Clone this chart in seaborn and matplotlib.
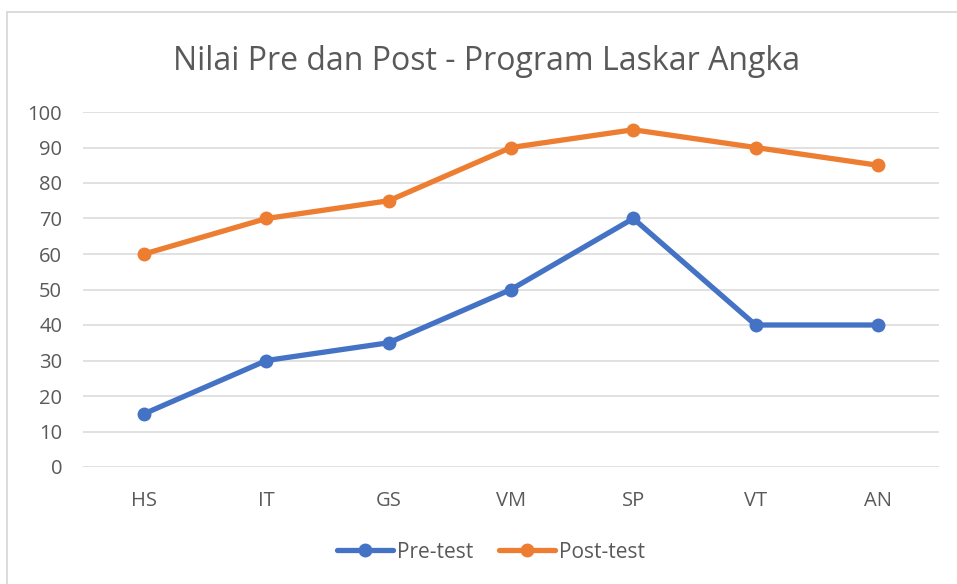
import matplotlib
matplotlib.use('Agg')
import matplotlib.pyplot as plt
import seaborn as sns
import pandas as pd
from matplotlib.patches import Rectangle

names = ['HS', 'IT', 'GS', 'VM', 'SP', 'VT', 'AN']
pre_test = [15, 30, 35, 50, 70, 40, 40]
post_test = [60, 70, 75, 90, 95, 90, 85]
series = ['Pre-test', 'Post-test']
colors = ['#4472C4', '#ED7D31']

df = pd.DataFrame({
    'nama': names * 2,
    'nilai': pre_test + post_test,
    'seri': [series[0]] * len(names) + [series[1]] * len(names),
})
df['pos'] = list(range(len(names))) * 2

sns.set_theme(style='white')
plt.rcParams['font.family'] = ['Open Sans', 'DejaVu Sans']
txt = '#595959'

fig = plt.figure(figsize=(9.57, 5.84), dpi=100)
fig.patches.append(Rectangle((7 / 957, -0.1), 1.2, 1 - 12 / 584 + 0.1, transform=fig.transFigure,
                             fill=False, edgecolor='#D9D9D9', linewidth=1.3))
ax = fig.add_axes([83 / 957, 117 / 584, 856 / 957, 355 / 584])

sns.lineplot(data=df, x='pos', y='nilai', hue='seri', hue_order=series, palette=colors,
             marker='o', markersize=10, markeredgewidth=0, linewidth=3.8, ax=ax,
             solid_capstyle='round')

ax.set_xlim(-0.5, len(names) - 0.5)
ax.set_ylim(0, 100)
ax.set_yticks(range(0, 101, 10))
ax.set_xticks(range(len(names)))
ax.set_xticklabels(names)
ax.grid(axis='y', color='#D9D9D9', linewidth=1.1)
ax.set_axisbelow(True)
for s in ax.spines.values():
    s.set_visible(False)
ax.tick_params(axis='both', colors=txt, labelsize=14.5, length=0)
ax.tick_params(axis='y', pad=15)
ax.tick_params(axis='x', pad=17)
ax.set_xlabel('')
ax.set_ylabel('')

fig.text(487 / 957, 1 - 62 / 584, 'Nilai Pre dan Post - Program Laskar Angka', ha='center', va='center',
         fontsize=23, color=txt)

handles, labels = ax.get_legend_handles_labels()
ax.legend(handles, labels, loc='center', bbox_to_anchor=(491 / 957, 1 - 552 / 584),
          bbox_transform=fig.transFigure, ncol=2, frameon=False, fontsize=15,
          handlelength=2.7, columnspacing=1.2, handletextpad=0.2, labelcolor=txt)

fig.savefig('out.png', dpi=100)
